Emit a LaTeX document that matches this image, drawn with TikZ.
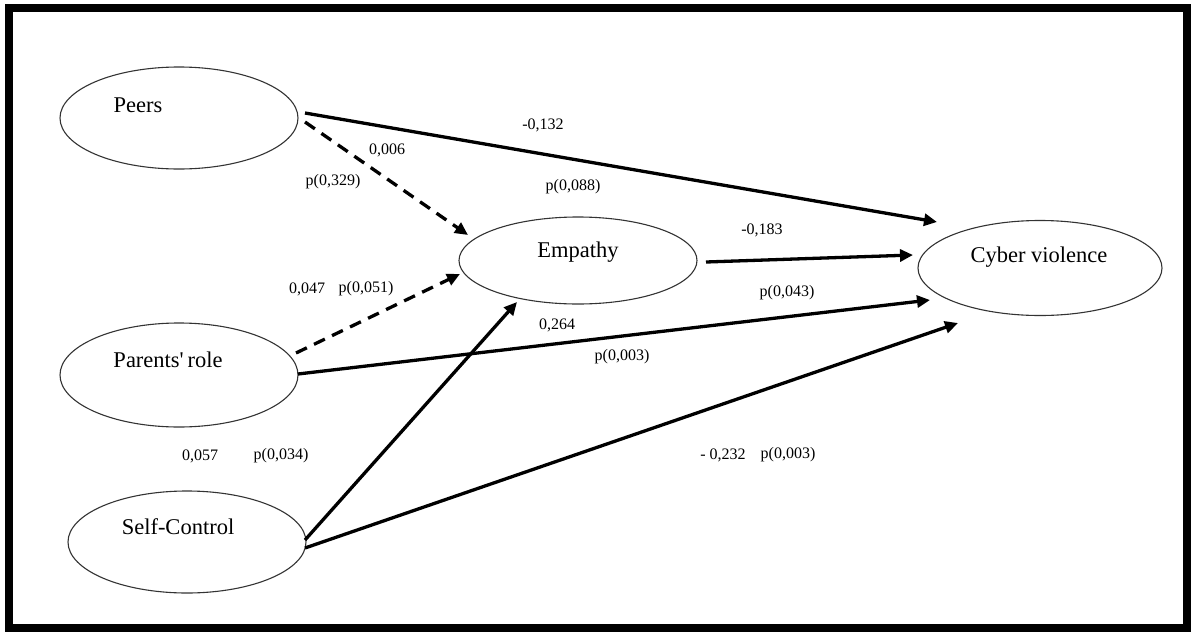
\documentclass[tikz,border=0pt]{standalone}
\usepackage{fontspec}
\setmainfont{Liberation Serif}
\usetikzlibrary{shapes.geometric,arrows.meta}
\begin{document}
\begin{tikzpicture}[x=1pt,y=-1pt,
  latent/.style={ellipse,draw=black!80,line width=1.1pt,inner sep=0pt},
  lbl/.style={inner sep=0pt,font=\fontsize{16}{18}\selectfont},
  big/.style={font=\fontsize{22.5}{26}\selectfont},
  arr/.style={line width=3.3pt,-{Triangle[length=13pt,width=12pt]}},
  darr/.style={arr,dash pattern=on 12pt off 8pt}]
\useasboundingbox (0,0) rectangle (1195,632);
\draw[line width=8pt] (9,8) rectangle (1187,628);
% latent variables
\node[latent,minimum width=238pt,minimum height=102pt,
  label={[big,xshift=-41pt,yshift=13pt]center:Peers}] (peers) at (179,118) {};
\node[latent,minimum width=238pt,minimum height=104pt,
  label={[big,xshift=-11pt,yshift=15pt]center:Parents\textquotesingle\,role}] (parents) at (179,375) {};
\node[latent,minimum width=238pt,minimum height=102pt,
  label={[big,xshift=-9pt,yshift=15pt]center:Self-Control}] (self) at (187,542) {};
\node[latent,minimum width=238pt,minimum height=87pt,
  label={[big,yshift=8.5pt]center:Empathy}] (emp) at (578,260.5) {};
\node[latent,minimum width=244pt,minimum height=95pt,
  label={[big,xshift=-1pt,yshift=11pt]center:Cyber violence}] (cyber) at (1040,268) {};
% paths
\draw[arr]  ([shift={(126,-5)}]peers.center) -- ([shift={(-103,-46)}]cyber.center);
\draw[darr] ([shift={(126,4)}]peers.center) -- ([shift={(-110,-25.5)}]emp.center);
\draw[darr] ([shift={(117,-22)}]parents.center) -- ([shift={(-118,13.5)}]emp.center);
\draw[arr]  ([shift={(119,-1)}]parents.center) -- ([shift={(-110,32)}]cyber.center);
\draw[arr]  ([shift={(118,-2)}]self.center) -- ([shift={(-61,41.5)}]emp.center);
\draw[arr]  ([shift={(118,6)}]self.center) -- ([shift={(-82,55)}]cyber.center);
\draw[arr]  ([shift={(128,1.5)}]emp.center) -- ([shift={(-127,-13)}]cyber.center);
% coefficients
\node[lbl] (l1) at (543,125) {-0,132};
\node[lbl] (l2) at (387,150) {0,006};
\node[lbl] (l3) at (333,182) {p(0,329)};
\node[lbl] (l4) at (573,187) {p(0,088)};
\node[lbl] (l5) at (762,230) {-0,183};
\node[lbl] (l6) at (787,293) {p(0,043)};
\node[lbl] (l7) at (307,289) {0,047};
\node[lbl] (l8) at (366,289) {p(0,051)};
\node[lbl] (l9) at (557,325) {0,264};
\node[lbl] (l10) at (622,357) {p(0,003)};
\node[lbl] (l11) at (200,456) {0,057};
\node[lbl] (l12) at (281,456) {p(0,034)};
\node[lbl] (l13) at (723,455) {- 0,232};
\node[lbl] (l14) at (788,455) {p(0,003)};
\end{tikzpicture}
\end{document}
